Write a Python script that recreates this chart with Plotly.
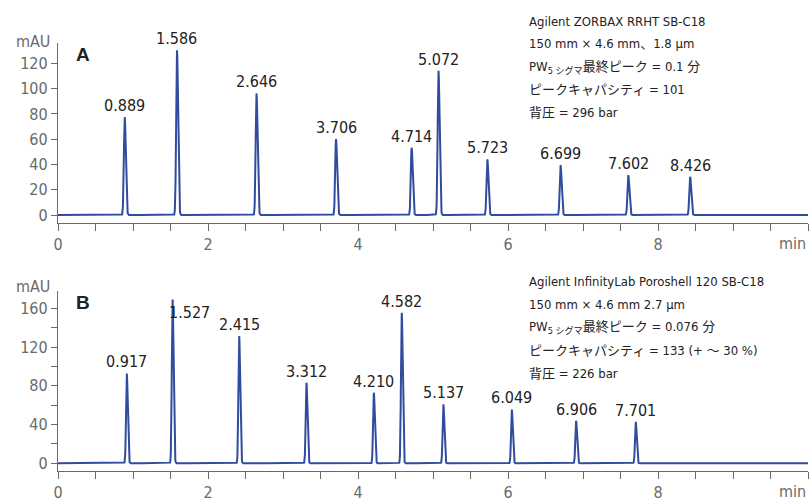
import numpy as np
import plotly.graph_objects as go

# Peak data
times_a = [0.889, 1.586, 2.646, 3.706, 4.714, 5.072, 5.723, 6.699, 7.602, 8.426]
heights_a = [77.7, 130.4, 96.3, 60.1, 53.3, 114.2, 44.3, 39.6, 31.6, 30.3]
labels_a = ["0.889", "1.586", "2.646", "3.706", "4.714", "5.072", "5.723", "6.699", "7.602", "8.426"]

times_b = [0.917, 1.527, 2.415, 3.312, 4.210, 4.582, 5.137, 6.049, 6.906, 7.701]
heights_b = [92.9, 169.6, 131.7, 83.2, 72.9, 155.4, 61.2, 55.7, 44.0, 43.0]
labels_b = ["0.917", "1.527", "2.415", "3.312", "4.210", "4.582", "5.137", "6.049", "6.906", "7.701"]

info_a = ["Agilent ZORBAX RRHT SB-C18",
          "150 mm × 4.6 mm、1.8 µm",
          "PW<sub>5 シグマ</sub>最終ピーク = 0.1 分",
          "ピークキャパシティ = 101",
          "背圧 = 296 bar"]
info_b = ["Agilent InfinityLab Poroshell 120 SB-C18",
          "150 mm × 4.6 mm 2.7 µm",
          "PW<sub>5 シグマ</sub>最終ピーク = 0.076 分",
          "ピークキャパシティ = 133 (+ ～ 30 %)",
          "背圧 = 226 bar"]

x_ticks = [i * 0.5 for i in range(21)]
x_ticktext = [str(int(v)) if (v % 2 == 0 and v < 10) else "" for v in x_ticks]

FONT = "Liberation Sans Narrow, DejaVu Sans Condensed, Arial Narrow, Noto Sans CJK JP, sans-serif"
JFONT = "Liberation Sans Narrow, DejaVu Sans Condensed, Noto Sans CJK JP, sans-serif"
LINE = "#2f4c9e"
AX = "#6a6a6a"
TXT = "#6a6a6a"

t = np.arange(0, 10.0001, 0.002)


def trace(times, heights, sigma):
    y = np.zeros_like(t)
    for tr, h in zip(times, heights):
        s = np.where(t < tr, sigma, sigma * 1.3)
        y += h * np.exp(-0.5 * ((t - tr) / s) ** 2)
    return y


fig = go.Figure()
fig.add_trace(go.Scatter(x=t, y=trace(times_a, heights_a, 0.011), mode="lines",
                         line=dict(color=LINE, width=2), xaxis="x", yaxis="y",
                         hoverinfo="skip", showlegend=False))
fig.add_trace(go.Scatter(x=t, y=trace(times_b, heights_b, 0.010), mode="lines",
                         line=dict(color=LINE, width=2), xaxis="x2", yaxis="y2",
                         hoverinfo="skip", showlegend=False))

x_left = 58 / 809
common_x = dict(range=[0, 10], showline=True, linecolor=AX, linewidth=1.3,
                ticks="outside", ticklen=7, tickcolor=AX, tickwidth=1.3,
                tickvals=x_ticks, ticktext=x_ticktext, showgrid=False, zeroline=False,
                automargin=False,
                tickfont=dict(family=FONT, size=16, color=TXT), domain=[x_left, 0.999])

fig.update_layout(
    width=809, height=500, margin=dict(l=0, r=0, t=0, b=0, autoexpand=False),
    plot_bgcolor="white", paper_bgcolor="white",
    xaxis=dict(anchor="y", **common_x),
    xaxis2=dict(anchor="y2", **common_x),
    yaxis=dict(domain=[1 - 223 / 500, 1 - 43 / 500], range=[-6.3, 136.2], anchor="x",
               showline=True, linecolor=AX, linewidth=1.3, ticks="outside", ticklen=6,
               tickcolor=AX, tickwidth=1.3, tickvals=[0, 20, 40, 60, 80, 100, 120],
               showgrid=False, zeroline=False, automargin=False,
               tickfont=dict(family=FONT, size=16, color=TXT)),
    yaxis2=dict(domain=[1 - 471 / 500, 1 - 291 / 500], range=[-7.9, 177.8], anchor="x2",
                showline=True, linecolor=AX, linewidth=1.3, ticks="outside", ticklen=6,
                tickcolor=AX, tickwidth=1.3, tickvals=[0, 40, 80, 120, 160],
                minor=dict(tickvals=[20, 60, 100, 140], ticks="outside", ticklen=6,
                           tickcolor=AX, tickwidth=1.3),
                showgrid=False, zeroline=False, automargin=False,
                tickfont=dict(family=FONT, size=16, color=TXT)),
)

ann = []
for xs, ys, lab in zip(times_a, heights_a, labels_a):
    ann.append(dict(x=xs, y=ys, xref="x", yref="y", text=lab, showarrow=False,
                    yanchor="bottom", yshift=0, font=dict(family=FONT, size=16, color="#222")))
for xs, ys, lab in zip(times_b, heights_b, labels_b):
    if lab == "1.527":
        ann.append(dict(x=xs, y=ys, xref="x2", yref="y2", text=lab, showarrow=False,
                        yanchor="middle", xshift=17, yshift=-14,
                        font=dict(family=FONT, size=16, color="#222")))
    else:
        ann.append(dict(x=xs, y=ys, xref="x2", yref="y2", text=lab, showarrow=False,
                        yanchor="bottom", yshift=0, font=dict(family=FONT, size=16, color="#222")))

# axis unit labels
ann.append(dict(x=10, y=0, xref="x", yref="y domain", text="min", showarrow=False,
                xanchor="right", yanchor="top", yshift=-9,
                font=dict(family=FONT, size=16, color=TXT)))
ann.append(dict(x=10, y=0, xref="x2", yref="y2 domain", text="min", showarrow=False,
                xanchor="right", yanchor="top", yshift=-9,
                font=dict(family=FONT, size=16, color=TXT)))
ann.append(dict(x=0, y=1, xref="x domain", yref="y domain", text="mAU", showarrow=False,
                xanchor="right", yanchor="middle", xshift=-6, yshift=1,
                font=dict(family=FONT, size=16, color=TXT)))
ann.append(dict(x=0, y=1, xref="x2 domain", yref="y2 domain", text="mAU", showarrow=False,
                xanchor="right", yanchor="middle", xshift=-6, yshift=5,
                font=dict(family=FONT, size=16, color=TXT)))
# panel letters
ann.append(dict(x=83 / 809, y=1 - 55 / 500, xref="paper", yref="paper", text="<b>A</b>",
                showarrow=False, xanchor="center", yanchor="middle",
                font=dict(family="Liberation Sans, Arial, sans-serif", size=19, color="#222")))
ann.append(dict(x=83 / 809, y=1 - 302 / 500, xref="paper", yref="paper", text="<b>B</b>",
                showarrow=False, xanchor="center", yanchor="middle",
                font=dict(family="Liberation Sans, Arial, sans-serif", size=19, color="#222")))

for i, line in enumerate(info_a):
    ann.append(dict(x=527 / 809, y=1 - (21 + 23 * i) / 500, xref="paper", yref="paper",
                    text=line, showarrow=False, xanchor="left", yanchor="middle",
                    font=dict(family=JFONT, size=13, color="#222")))
for i, line in enumerate(info_b):
    ann.append(dict(x=527 / 809, y=1 - (281 + 23 * i) / 500, xref="paper", yref="paper",
                    text=line, showarrow=False, xanchor="left", yanchor="middle",
                    font=dict(family=JFONT, size=13, color="#222")))

fig.update_layout(annotations=ann)
fig.write_html("out.html", config={"displayModeBar": False},
               post_script="document.body.style.margin='0';")
